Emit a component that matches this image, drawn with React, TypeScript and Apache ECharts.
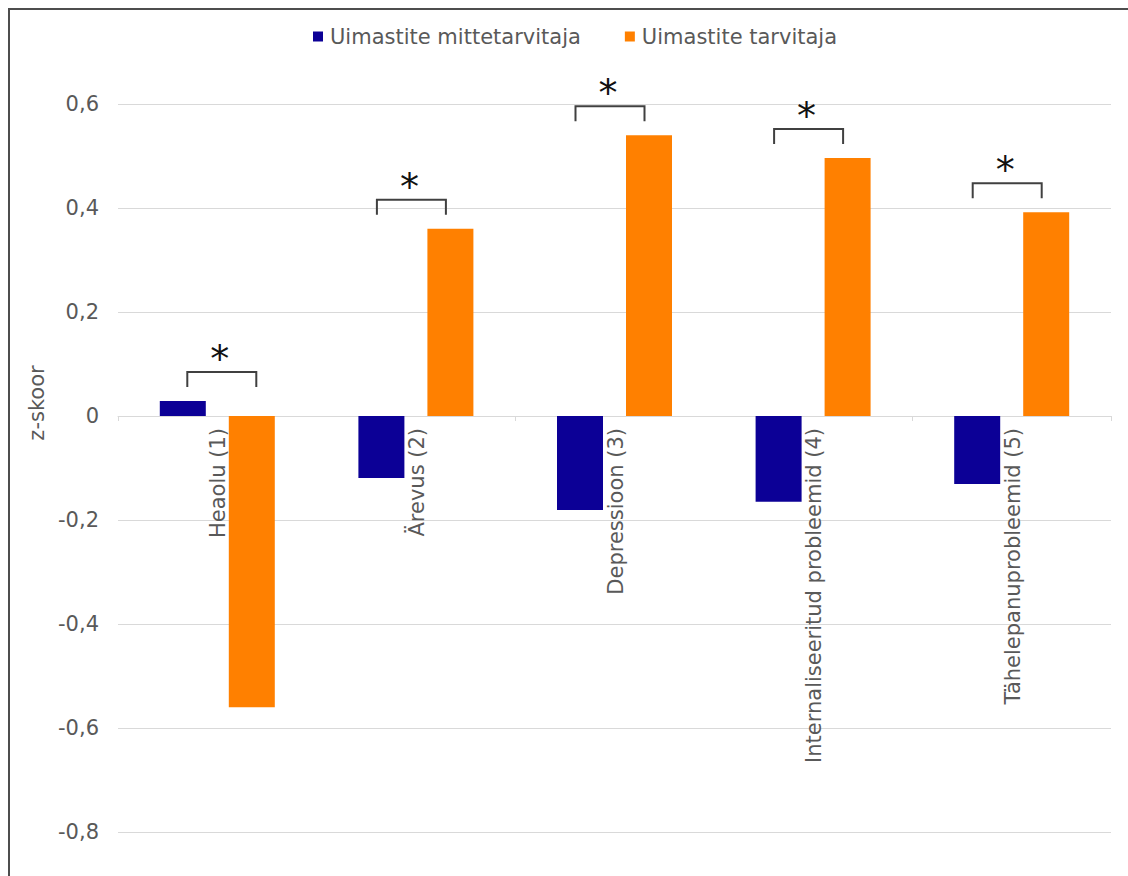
import React, { useEffect, useRef } from "react";
import * as echarts from "echarts";

const categories = [
  "Heaolu (1)",
  "Ärevus (2)",
  "Depressioon (3)",
  "Internaliseeritud probleemid (4)",
  "Tähelepanuprobleemid (5)",
];
const seriesNames = ["Uimastite mittetarvitaja", "Uimastite tarvitaja"];
const nonUsers = [0.029, -0.119, -0.181, -0.165, -0.131];
const users = [-0.56, 0.36, 0.54, 0.496, 0.392];
const significant = [true, true, true, true, true];
const yMin = -0.8;
const yMax = 0.6;
const yStep = 0.2;

const FONT = "DejaVu Sans";
const GRAY = "#595959";

export default function App() {
  const ref = useRef<HTMLDivElement>(null);

  useEffect(() => {
    if (!ref.current) return;
    const chart = echarts.init(ref.current, null, { renderer: "svg" });

    const bracketData = categories
      .map((c, i) => [i, Math.max(nonUsers[i], users[i])])
      .filter((_, i) => significant[i]);

    const labelData = categories.map((c, i) => [i, 0]);

    const option: any = {
      animation: false,
      backgroundColor: "#ffffff",
      textStyle: { fontFamily: FONT },
      legend: {
        data: seriesNames,
        left: 308,
        top: 21,
        icon: "rect",
        itemWidth: 10,
        itemHeight: 10,
        itemGap: 44,
        textStyle: { fontFamily: FONT, fontSize: 21, color: GRAY, padding: [0, 0, 0, 2] },
      },
      grid: {
        left: 118,
        right: 17,
        top: 104,
        bottom: 44,
        containLabel: false,
        outerBoundsMode: "none",
      },
      xAxis: {
        type: "category",
        data: categories,
        axisLine: { onZero: true, lineStyle: { color: "#d9d9d9", width: 1 } },
        axisTick: { show: true, length: 5, lineStyle: { color: "#d9d9d9" } },
        axisLabel: { show: false },
        splitLine: { show: false },
      },
      yAxis: {
        type: "value",
        min: yMin,
        max: yMax,
        interval: yStep,
        axisLine: { show: false },
        axisTick: { show: false },
        axisLabel: {
          margin: 19,
          color: GRAY,
          fontFamily: FONT,
          fontSize: 21,
          formatter: (v: number) =>
            Math.abs(v) < 1e-9 ? "0" : v.toFixed(1).replace(".", ","),
        },
        splitLine: { lineStyle: { color: "#d9d9d9", width: 1 } },
      },
      series: [
        {
          name: seriesNames[0],
          type: "bar",
          data: nonUsers,
          barWidth: 46,
          barGap: "50%",
          itemStyle: { color: "#0c0096" },
        },
        {
          name: seriesNames[1],
          type: "bar",
          data: users,
          barWidth: 46,
          barGap: "50%",
          itemStyle: { color: "#ff8000" },
        },
        {
          type: "custom",
          name: "catLabels",
          data: labelData,
          encode: { x: 0, y: 1 },
          z: 5,
          silent: true,
          clip: false,
          renderItem: (params: any, api: any) => {
            const idx = api.value(0);
            const p = api.coord([idx, 0]);
            return {
              type: "text",
              x: p[0] + 1,
              y: p[1] + 12,
              rotation: Math.PI / 2,
              style: {
                text: categories[idx],
                fontFamily: FONT,
                fontSize: 21,
                fill: GRAY,
                align: "right",
                verticalAlign: "middle",
              },
            };
          },
        },
        {
          type: "custom",
          name: "sig",
          data: bracketData,
          encode: { x: 0, y: 1 },
          z: 10,
          silent: true,
          clip: false,
          renderItem: (params: any, api: any) => {
            const p = api.coord([api.value(0), api.value(1)]);
            const idx = api.value(0);
            const shift = idx === 0 ? 0 : -9;
            const l = p[0] - 30 + shift;
            const r = p[0] + 39 + shift;
            const yTop = p[1] - 29;
            return {
              type: "group",
              children: [
                {
                  type: "polyline",
                  shape: {
                    points: [
                      [l, yTop + 15],
                      [l, yTop],
                      [r, yTop],
                      [r, yTop + 15],
                    ],
                  },
                  style: { stroke: "#404040", lineWidth: 2, fill: "none" },
                },
                {
                  type: "text",
                  x: (l + r) / 2 - 2,
                  y: yTop - 13,
                  style: {
                    text: "*",
                    fontFamily: FONT,
                    fontSize: 38,
                    fill: "#111111",
                    align: "center",
                    verticalAlign: "middle",
                  },
                },
              ],
            };
          },
        },
      ],
      graphic: [
        {
          type: "text",
          x: 37,
          y: 403,
          rotation: Math.PI / 2,
          style: {
            text: "z-skoor",
            fontFamily: FONT,
            fontSize: 21,
            fill: GRAY,
            align: "center",
            verticalAlign: "middle",
          },
        },
      ],
    };

    chart.setOption(option);
    return () => chart.dispose();
  }, []);

  return (
    <>
      <div
        ref={ref}
        style={{ position: "fixed", left: 0, top: 0, width: 1128, height: 876 }}
      />
      <div
        style={{
          position: "fixed",
          left: 8,
          top: 8,
          width: 1120,
          height: 868,
          boxSizing: "border-box",
          borderTop: "2px solid #4d4d4d",
          borderLeft: "2px solid #4d4d4d",
          pointerEvents: "none",
        }}
      />
    </>
  );
}
